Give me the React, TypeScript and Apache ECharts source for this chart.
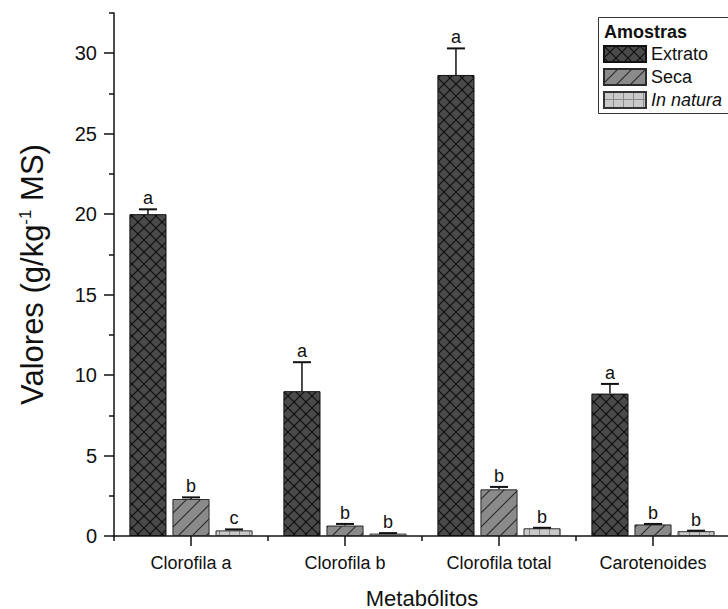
import React, { useEffect, useRef } from "react";
import * as echarts from "echarts";

const categories = ["Clorofila a", "Clorofila b", "Clorofila total", "Carotenoides"];
const seriesNames = ["Extrato", "Seca", "In natura"];
const extrato = [20.0, 9.0, 28.65, 8.85];
const extratoErr = [0.3, 1.8, 1.65, 0.6];
const seca = [2.3, 0.65, 2.9, 0.72];
const secaErr = [0.1, 0.1, 0.15, 0.03];
const inNatura = [0.35, 0.15, 0.48, 0.3];
const inNaturaErr = [0.06, 0.03, 0.03, 0.03];
const extratoLetters = ["a", "a", "a", "a"];
const secaLetters = ["b", "b", "b", "b"];
const inNaturaLetters = ["c", "b", "b", "b"];
const yMajorTicks = [0, 5, 10, 15, 20, 25, 30];
const yMinorTicks = [2.5, 7.5, 12.5, 17.5, 22.5, 27.5, 32.5];

const FONT = "'Liberation Sans', Arial, sans-serif";

function makePattern(kind: string) {
  const c = document.createElement("canvas");
  let w = 12, h = 12;
  if (kind === "seca") { w = 14; h = 14; }
  if (kind === "natura") { w = 10; h = 8; }
  c.width = w; c.height = h;
  const g = c.getContext("2d")!;
  if (kind === "extrato") {
    g.fillStyle = "#4a4a4a";
    g.fillRect(0, 0, w, h);
    g.strokeStyle = "#0e0e0e";
    g.lineWidth = 1.1;
    g.beginPath();
    g.moveTo(-1, -1); g.lineTo(w + 1, h + 1);
    g.moveTo(-1, h + 1); g.lineTo(w + 1, -1);
    g.stroke();
  } else if (kind === "seca") {
    g.fillStyle = "#8a8a8a";
    g.fillRect(0, 0, w, h);
    g.strokeStyle = "#2a2a2a";
    g.lineWidth = 1.1;
    g.beginPath();
    g.moveTo(-1, h + 1); g.lineTo(w + 1, -1);
    g.moveTo(-2, 2); g.lineTo(2, -2);
    g.moveTo(w - 2, h + 2); g.lineTo(w + 2, h - 2);
    g.stroke();
  } else {
    g.fillStyle = "#c9c9c9";
    g.fillRect(0, 0, w, h);
    g.strokeStyle = "#8a8a8a";
    g.lineWidth = 1;
    g.beginPath();
    g.moveTo(w - 0.5, 0); g.lineTo(w - 0.5, h);
    g.moveTo(0, h - 0.5); g.lineTo(w, h - 0.5);
    g.stroke();
  }
  return { image: c.toDataURL(), repeat: "repeat", imageWidth: w, imageHeight: h };
}

export default function App() {
  const ref = useRef<HTMLDivElement>(null);
  useEffect(() => {
    if (!ref.current) return;
    const chart = echarts.init(ref.current, undefined, { renderer: "svg" });
    const patterns = [makePattern("extrato"), makePattern("seca"), makePattern("natura")];
    const borders = ["#111", "#2a2a2a", "#333"];
    const means = [extrato, seca, inNatura];
    const errs = [extratoErr, secaErr, inNaturaErr];
    const letters = [extratoLetters, secaLetters, inNaturaLetters];

    const errData: number[][] = [];
    const errLetters: string[] = [];
    for (let s = 0; s < 3; s++) {
      for (let i = 0; i < categories.length; i++) {
        errData.push([i, means[s][i] + errs[s][i], means[s][i], s]);
        errLetters.push(letters[s][i]);
      }
    }
    const BAR_CAT_GAP = 0.2;
    const BAR_GAP = 0.16;

    const barSeries = seriesNames.map((name, s) => ({
      name,
      type: "bar",
      xAxisIndex: 0,
      yAxisIndex: 0,
      data: means[s],
      barCategoryGap: "20%",
      barGap: "16%",
      itemStyle: { color: patterns[s], borderColor: borders[s], borderWidth: 1 },
      z: 2,
    }));

    const option: any = {
      animation: false,
      backgroundColor: "#ffffff",
      textStyle: { fontFamily: FONT },
      grid: { left: 114, top: 13, width: 616, height: 523, containLabel: false, outerBoundsMode: "none" },
      legend: {
        show: true,
        left: 603,
        top: 45,
        padding: 0,
        orient: "vertical",
        icon: "rect",
        itemWidth: 42,
        itemHeight: 16,
        itemGap: 5,
        selectedMode: false,
        data: seriesNames,
        formatter: (n: string) => (n === "In natura" ? "{i|In natura}" : n),
        textStyle: {
          fontFamily: FONT,
          fontSize: 18,
          color: "#111",
          lineHeight: 16,
          rich: { i: { fontStyle: "italic", fontFamily: FONT, fontSize: 18, color: "#111", lineHeight: 16 } },
        },
      },
      graphic: [
        {
          type: "rect",
          z: -1,
          shape: { x: 598.5, y: 17.5, width: 140, height: 96 },
          style: { fill: "#fff", stroke: "#333", lineWidth: 1 },
        },
        {
          type: "text",
          x: 604,
          y: 32,
          style: {
            text: "Amostras",
            font: `bold 18px ${FONT}`,
            fill: "#111",
            verticalAlign: "middle",
            textVerticalAlign: "middle",
          },
        },
      ],
      xAxis: [
        {
          type: "category",
          data: categories,
          position: "bottom",
          axisLine: { show: true, lineStyle: { color: "#111", width: 1.5 } },
          axisTick: { show: true, alignWithLabel: true, length: 10, lineStyle: { color: "#111", width: 1.5 } },
          axisLabel: { show: true, margin: 18, fontSize: 18, color: "#111", fontFamily: FONT },
          splitLine: { show: false },
          name: "Metabólitos",
          nameLocation: "middle",
          nameGap: 51,
          nameTextStyle: { fontSize: 22, color: "#111", fontFamily: FONT },
        },
        {
          type: "category",
          data: categories,
          position: "bottom",
          axisLine: { show: false },
          axisTick: { show: true, length: 5, lineStyle: { color: "#111", width: 1.5 } },
          axisLabel: { show: false },
          splitLine: { show: false },
        },
      ],
      yAxis: [
        {
          type: "value",
          position: "left",
          min: 0,
          max: 32.5,
          axisLine: { show: true, lineStyle: { color: "#111", width: 1.5 } },
          axisTick: { show: true, length: 10, customValues: yMajorTicks, lineStyle: { color: "#111", width: 1.5 } },
          axisLabel: { show: true, customValues: yMajorTicks, margin: 17, fontSize: 20, color: "#111", fontFamily: FONT },
          splitLine: { show: false },
          name: "{a|Valores (g/kg}{s|-1}{a| MS)}",
          nameLocation: "middle",
          nameRotate: 90,
          nameGap: 66,
          nameTextStyle: {
            rich: {
              a: { fontSize: 31, fontFamily: FONT, color: "#111" },
              s: { fontSize: 17, fontFamily: FONT, color: "#111", verticalAlign: "top" },
            },
          },
        },
        {
          type: "value",
          position: "left",
          min: 0,
          max: 32.5,
          axisLine: { show: false },
          axisTick: { show: true, length: 5, customValues: yMinorTicks, lineStyle: { color: "#111", width: 1.5 } },
          axisLabel: { show: false },
          splitLine: { show: false },
        },
      ],
      series: [
        ...barSeries,
        {
          type: "custom",
          name: "err",
          xAxisIndex: 0,
          yAxisIndex: 0,
          z: 5,
          encode: { x: 0, y: 1 },
          data: errData,
          renderItem: (params: any, api: any) => {
            const cat = api.value(0);
            const top = api.value(1);
            const mean = api.value(2);
            const s = api.value(3);
            const pTop = api.coord([cat, top]);
            const pMean = api.coord([cat, mean]);
            const band = api.size([1, 0])[0];
            const total = band * (1 - BAR_CAT_GAP);
            const bw = total / (3 + 2 * BAR_GAP);
            const off = -total / 2 + s * bw * (1 + BAR_GAP) + bw / 2;
            const x = pTop[0] + off;
            const letter = errLetters[params.dataIndex];
            return {
              type: "group",
              children: [
                {
                  type: "line",
                  shape: { x1: x, y1: pMean[1], x2: x, y2: pTop[1] },
                  style: { stroke: "#111", lineWidth: 1.5 },
                },
                {
                  type: "line",
                  shape: { x1: x - 9, y1: pTop[1], x2: x + 9, y2: pTop[1] },
                  style: { stroke: "#111", lineWidth: 2 },
                },
                {
                  type: "text",
                  x: x,
                  y: pTop[1] - 2,
                  style: {
                    text: letter,
                    font: `18px ${FONT}`,
                    fill: "#111",
                    align: "center",
                    textAlign: "center",
                    verticalAlign: "bottom",
                    textVerticalAlign: "bottom",
                  },
                },
              ],
            };
          },
        },
      ],
    };
    chart.setOption(option);
    return () => chart.dispose();
  }, []);
  return (
    <div
      ref={ref}
      style={{ position: "fixed", left: 0, top: 0, width: 728, height: 609, background: "#fff" }}
    />
  );
}
